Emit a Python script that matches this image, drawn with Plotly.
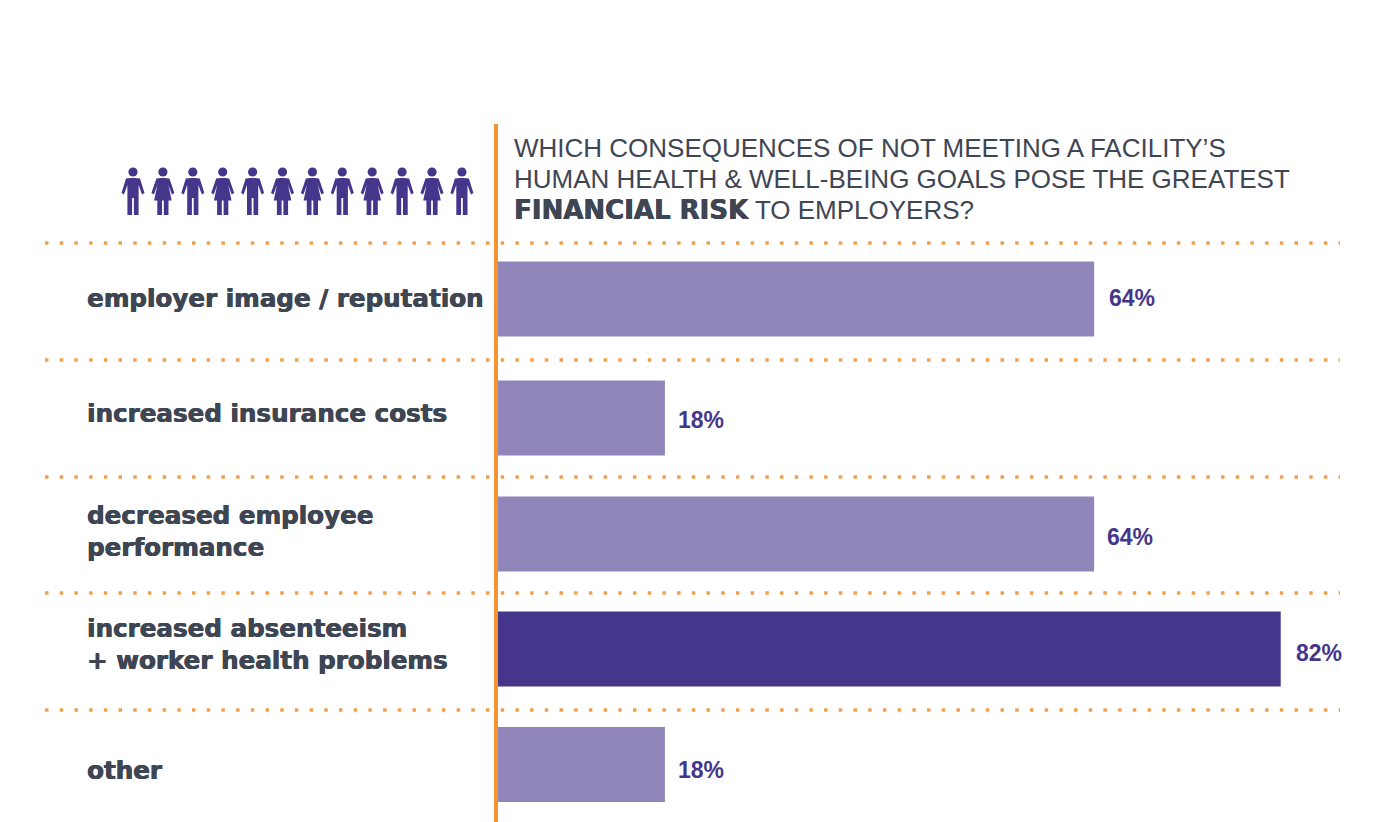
import plotly.graph_objects as go

W, H = 1373, 822
categories = ["employer image / reputation", "increased insurance costs",
              "decreased employee<br>performance",
              "increased absenteeism<br>+ worker health problems", "other"]
# Bar lengths as drawn in the picture (the 82% bar is drawn slightly long in the source)
bar_lengths = [64, 18, 64, 84, 18]
value_labels = ["64%", "18%", "64%", "82%", "18%"]
bar_colors = ["#9186ba", "#9186ba", "#9186ba", "#45368c", "#9186ba"]
people = ["m", "f", "m", "f", "m", "f", "f", "m", "f", "m", "f", "m"]
title_lines = ["WHICH CONSEQUENCES OF NOT MEETING A FACILITY’S",
               "HUMAN HEALTH & WELL-BEING GOALS POSE THE GREATEST"]

PX_PER_UNIT, X0, Y0, STEP, BAR_H = 9.33, 497, 299, 116.4, 75
INK, PURPLE, ORANGE = "#3f4653", "#45368c", "#f59331"
LABEL_FONT = "DejaVu Sans"
HEAD_FONT = "Liberation Sans"


def px(x):
    return x / W


def py(y):
    return 1 - y / H


nudges = [0, 2.6, 2.2, 0.8, 0]
width = BAR_H / STEP
y_idx = list(range(len(categories)))
fig = go.Figure(go.Bar(
    x=bar_lengths, y=y_idx, orientation="h", width=width,
    offset=[-width / 2 + n / STEP for n in nudges],
    marker=dict(color=bar_colors, line_width=0), hoverinfo="skip"))

shapes, annotations = [], []
for gy in [243, 360, 477, 593, 710]:
    shapes.append(dict(type="line", xref="paper", yref="paper", x0=px(45), x1=px(1340),
                       y0=py(gy), y1=py(gy),
                       line=dict(color="#f2a04f", width=3.5, dash="3.5px,11.2px")))
shapes.append(dict(type="line", xref="paper", yref="paper", x0=px(496), x1=px(496),
                   y0=py(124), y1=0, line=dict(color=ORANGE, width=4)))

MAN = [(-2, 0), (2, 0), (7, 0.5), (11.5, 15), (9, 16.5), (5.6, 7), (5.6, 18), (5.6, 37), (0.9, 37),
       (0.9, 20), (-0.9, 20), (-0.9, 37), (-5.6, 37), (-5.6, 18), (-5.6, 7), (-9, 16.5), (-11.5, 15), (-7, 0.5)]
WOMAN = [(-2, 0), (2, 0), (6.5, 0.5), (11.5, 15), (9, 16.5), (5.5, 7), (8.8, 22.5), (5.6, 22.5), (5.6, 37), (0.9, 37),
         (0.9, 22.5), (-0.9, 22.5), (-0.9, 37), (-5.6, 37), (-5.6, 22.5), (-8.8, 22.5), (-5.5, 7), (-9, 16.5), (-11.5, 15), (-6.5, 0.5)]
for i, kind in enumerate(people):
    cx = 133 + i * 29.9
    top = 178
    pts = MAN if kind == "m" else WOMAN
    path = "M " + " L ".join(f"{px(cx + a):.5f},{py(top + b):.5f}" for a, b in pts) + " Z"
    shapes.append(dict(type="path", xref="paper", yref="paper", path=path,
                       fillcolor=PURPLE, line=dict(width=0)))
    shapes.append(dict(type="circle", xref="paper", yref="paper", x0=px(cx - 4.6), x1=px(cx + 4.6),
                       y0=py(172 + 4.6), y1=py(172 - 4.6), fillcolor=PURPLE, line=dict(width=0)))

label_y = [298, 413, 531, 644, 770]
value_y = [297.5, 420.5, 536.5, 652.5, 769.5]
value_x = [1107, 676, 1105, 1294, 676]
HEAVY = f"0.5px 0 0 {INK}, -0.3px 0 0 {INK}"
for cat, ly, txt, vx, vy in zip(categories, label_y, value_labels, value_x, value_y):
    annotations.append(dict(text=f"<b>{cat}</b>", xref="paper", yref="paper", x=px(85), y=py(ly),
                            xanchor="left", yanchor="middle", align="left", showarrow=False,
                            font=dict(family=LABEL_FONT, size=24.6, color=INK, shadow=HEAVY)))
    annotations.append(dict(text=f"<b>{txt}</b>", xref="paper", yref="paper", x=px(vx), y=py(vy),
                            xanchor="left", yanchor="middle", showarrow=False,
                            font=dict(family=HEAD_FONT, size=23, color=PURPLE)))

for line, ly in zip(title_lines, [148, 179]):
    annotations.append(dict(text=line, xref="paper", yref="paper", x=px(512), y=py(ly),
                            xanchor="left", yanchor="middle", showarrow=False,
                            font=dict(family=HEAD_FONT, size=26, color=INK)))
annotations.append(dict(
    text=f'<b><span style="font-family:{LABEL_FONT};text-shadow:{HEAVY}">FINANCIAL RISK</span></b> TO EMPLOYERS?',
    xref="paper", yref="paper", x=px(512), y=py(210), xanchor="left", yanchor="middle",
    showarrow=False, font=dict(family=HEAD_FONT, size=26, color=INK)))

fig.update_layout(
    width=W, height=H, autosize=False, margin=dict(l=0, r=0, t=0, b=0),
    paper_bgcolor="white", plot_bgcolor="white", showlegend=False,
    xaxis=dict(visible=False, range=[-X0 / PX_PER_UNIT, (W - X0) / PX_PER_UNIT]),
    yaxis=dict(visible=False, range=[(H - Y0) / STEP, -Y0 / STEP]),
    shapes=shapes, annotations=annotations)
fig.write_html("out.html", config={"displayModeBar": False},
               post_script="document.body.style.margin='0';document.documentElement.style.overflow='hidden';")
